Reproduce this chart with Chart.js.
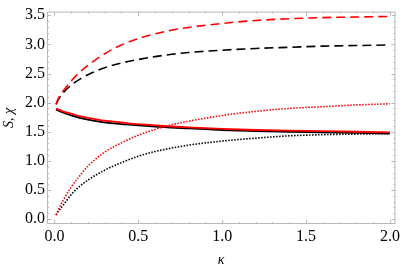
<!DOCTYPE html>
<html>
<head>
<meta charset="utf-8">
<script src="https://cdn.jsdelivr.net/npm/chart.js@4.4.1/dist/chart.umd.min.js"></script>
<style>
  html, body { margin: 0; padding: 0; background: #fff; }
  #wrap { width: 403px; height: 269px; }
</style>
</head>
<body>
<div id="wrap"><canvas id="chart"></canvas></div>
<script>
// kappa samples
const kappa = [0.01, 0.025, 0.05, 0.1, 0.15, 0.2, 0.3, 0.4, 0.5, 0.6, 0.7, 0.8, 1.0, 1.2, 1.4, 1.6, 1.8, 2.0];

// dashed curves
const dashedRed   = [1.97, 2.08, 2.19, 2.37, 2.52, 2.64, 2.84, 2.99, 3.10, 3.18, 3.245, 3.29, 3.36, 3.41, 3.44, 3.46, 3.47, 3.48];
const dashedBlack = [1.97, 2.06, 2.16, 2.30, 2.40, 2.48, 2.60, 2.68, 2.74, 2.79, 2.83, 2.86, 2.90, 2.93, 2.95, 2.97, 2.98, 2.99];
// solid curves
const solidRed    = [1.90, 1.88, 1.85, 1.81, 1.77, 1.74, 1.69, 1.66, 1.63, 1.61, 1.59, 1.575, 1.55, 1.53, 1.52, 1.51, 1.50, 1.49];
const solidBlack  = [1.88, 1.86, 1.83, 1.78, 1.74, 1.71, 1.66, 1.63, 1.61, 1.59, 1.57, 1.56, 1.53, 1.51, 1.50, 1.49, 1.48, 1.47];
// dotted curves
const dottedRed   = [0.07, 0.17, 0.31, 0.55, 0.74, 0.91, 1.15, 1.31, 1.44, 1.54, 1.62, 1.68, 1.78, 1.85, 1.90, 1.93, 1.96, 1.98];
const dottedBlack = [0.07, 0.14, 0.23, 0.42, 0.56, 0.67, 0.84, 0.97, 1.08, 1.16, 1.22, 1.27, 1.34, 1.39, 1.43, 1.45, 1.46, 1.47];

const xTickLabels = ['0.0', '0.5', '1.0', '1.5', '2.0'];
const yTickLabels = ['0.0', '0.5', '1.0', '1.5', '2.0', '2.5', '3.0', '3.5'];

const pts = ys => kappa.map((k, i) => ({ x: k, y: ys[i] }));

function series(ys, color, dash, width) {
  return {
    data: pts(ys),
    borderColor: color,
    borderWidth: width,
    borderDash: dash,
    pointRadius: 0,
    fill: false,
    cubicInterpolationMode: 'monotone'
  };
}

// ticks every 0.1, labels only on the majors
function minorTicks(labels) {
  return function (scale) {
    const majors = labels.map(Number);
    const last = majors[majors.length - 1];
    const ticks = [];
    for (let i = 0; i <= Math.round(last * 10); i++) ticks.push({ value: i / 10 });
    scale.ticks = ticks;
  };
}
function labelFor(labels) {
  return function (value) {
    const idx = labels.findIndex(l => Math.abs(Number(l) - value) < 1e-6);
    return idx >= 0 ? labels[idx] : '';
  };
}

// Mathematica-like frame with inward ticks
const framePlugin = {
  id: 'frame',
  beforeDatasetsDraw(chart) {
    const { ctx, chartArea: a, scales } = chart;
    ctx.save();
    ctx.strokeStyle = '#b8b8b8';
    ctx.lineWidth = 1;
    ctx.strokeRect(a.left + 0.5, a.top + 0.5, a.right - a.left - 1, a.bottom - a.top - 1);
    ctx.beginPath();
    scales.x.ticks.forEach(t => {
      const px = Math.round(scales.x.getPixelForValue(t.value)) + 0.5;
      const len = Math.abs(t.value * 2 - Math.round(t.value * 2)) < 1e-6 ? 4 : 2;
      ctx.moveTo(px, a.bottom); ctx.lineTo(px, a.bottom - len);
      ctx.moveTo(px, a.top); ctx.lineTo(px, a.top + len);
    });
    scales.y.ticks.forEach(t => {
      const py = Math.round(scales.y.getPixelForValue(t.value)) + 0.5;
      const len = Math.abs(t.value * 2 - Math.round(t.value * 2)) < 1e-6 ? 4 : 2;
      ctx.moveTo(a.left, py); ctx.lineTo(a.left + len, py);
      ctx.moveTo(a.right, py); ctx.lineTo(a.right - len, py);
    });
    ctx.stroke();
    ctx.restore();
  }
};

const tickFont = { family: 'Liberation Serif', size: 16 };
const titleFont = { family: 'Liberation Serif', size: 14, style: 'italic' };

new Chart(document.getElementById('chart'), {
  type: 'line',
  data: {
    datasets: [
      series(dashedRed, '#ff0000', [9, 5], 1.6),
      series(solidRed, '#ff0000', [], 1.8),
      series(dottedRed, '#ff0000', [1.5, 1.5], 1.6),
      series(dashedBlack, '#000000', [9, 5], 1.6),
      series(solidBlack, '#000000', [], 1.8),
      series(dottedBlack, '#000000', [1.5, 1.5], 1.6)
    ]
  },
  options: {
    responsive: true,
    maintainAspectRatio: false,
    animation: false,
    layout: { padding: { top: 7, right: 5, left: 0, bottom: 0 } },
    plugins: { legend: { display: false }, tooltip: { enabled: false } },
    scales: {
      x: {
        type: 'linear',
        min: -0.044,
        max: 2.033,
        afterBuildTicks: minorTicks(xTickLabels),
        afterFit: s => { s.height = 45; },
        grid: { display: false, drawTicks: false },
        border: { display: false },
        ticks: { font: tickFont, color: '#000', padding: 3, maxRotation: 0, autoSkip: false, callback: labelFor(xTickLabels) },
        title: { display: true, text: 'κ', font: titleFont, color: '#000', padding: 0 }
      },
      y: {
        type: 'linear',
        min: -0.084,
        max: 3.563,
        afterBuildTicks: minorTicks(yTickLabels),
        afterFit: s => { s.width = 47; },
        grid: { display: false, drawTicks: false },
        border: { display: false },
        ticks: { font: tickFont, color: '#000', padding: 2, autoSkip: false, callback: labelFor(yTickLabels) },
        title: { display: true, text: 'S, χ', font: titleFont, color: '#000', padding: 1 }
      }
    }
  },
  plugins: [framePlugin]
});
</script>
</body>
</html>
